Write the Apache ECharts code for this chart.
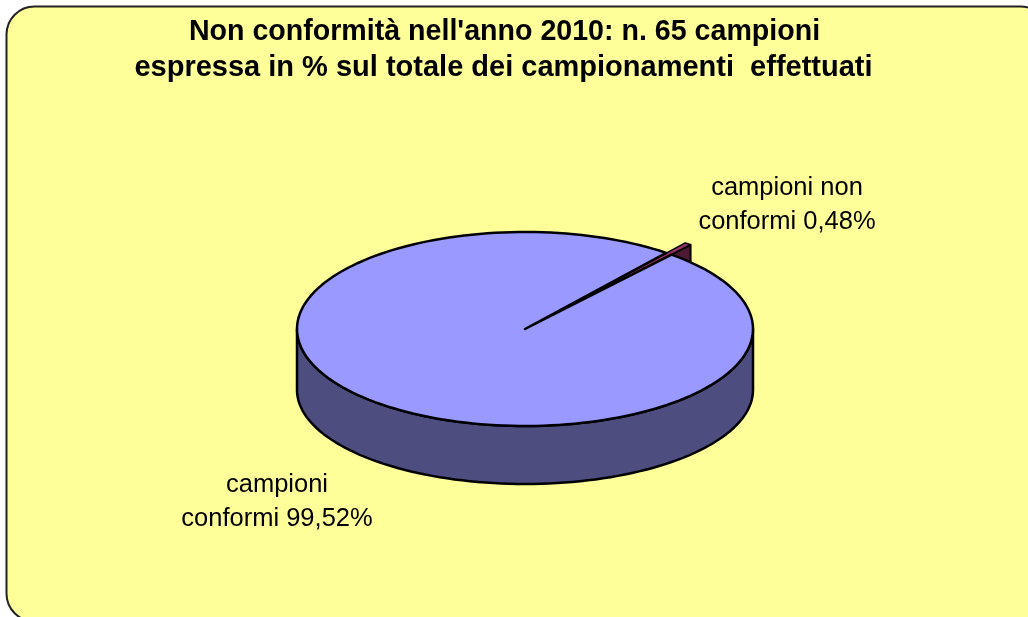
<!DOCTYPE html>
<html>
<head>
<meta charset="utf-8">
<style>
	html, body { margin: 0; padding: 0; background: #fff; }
	#main { width: 1028px; height: 617px; }
</style>
<script src="https://cdn.jsdelivr.net/npm/echarts@6/dist/echarts.min.js"></script>
</head>
<body>
<div id="main"></div>
<script>
//	dati
var categories = ["campioni conformi", "campioni non conformi"];
var values = [99.52, 0.48];
var labels = ["campioni\nconformi 99,52%", "campioni non\nconformi 0,48%"];
var titleLines = ["Non conformità nell'anno 2010: n. 65 campioni", "espressa in % sul totale dei campionamenti  effettuati"];

//	geometria della torta "3D"
var cx = 525, cy = 329, rx = 228, ry = 97;
var baseCy = 390, baseRy = 94;
var firstAngle = 40;		// gradi in senso orario dalle 12
var explode = 0.132;
var labelPos = [[277, 502], [787, 205]];
var colors = ["#9999FF", "#993366"];
var sideColors = ["#4D4D80", "#4D1A33"];

var total = 0;
for (var k = 0; k < values.length; k++) {
	total += values[k];
}

function toPoint(deg, ox, oy, y0, h) {
	var a = deg * Math.PI / 180;
	return [ox + rx * Math.cos(a), oy + y0 - cy - h * Math.sin(a)];
}
function arcPoints(from, to, ox, oy, y0, h) {
	var pts = [];
	var n = Math.max(2, Math.ceil(Math.abs(to - from) / 2));
	for (var i = 0; i <= n; i++) {
		pts.push(toPoint(from + (to - from) * i / n, ox, oy, y0, h));
	}
	return pts;
}
function renderSlice(params, api) {
	var idx = params.dataIndex;
	var before = 0;
	for (var i = 0; i < idx; i++) {
		before += values[i];
	}
	var sweep = api.value(1) / total * 360;
	// angoli matematici, si gira in senso orario
	var start = 90 - firstAngle - before / total * 360;
	var end = start - sweep;
	var children = [];

	if (idx == 0) {
		// fianco anteriore
		var front = arcPoints(180, 360, cx, cy, cy, ry);
		var back = arcPoints(360, 180, cx, cy, baseCy, baseRy);
		children.push({
			type: "polygon", z2: 3,
			shape: { points: front.concat(back) },
			style: { fill: sideColors[0], stroke: "#000", lineWidth: 2.5, lineJoin: "round" }
		});
		var top0 = [[cx, cy]].concat(arcPoints(start, end, cx, cy, cy, ry));
		children.push({
			type: "polygon", z2: 4,
			shape: { points: top0 },
			style: { fill: colors[0], stroke: "#000", lineWidth: 2.5, lineJoin: "round" }
		});
	} else {
		// fetta esplosa, resta dietro alla fetta grande
		var mid = (start + end) / 2 * Math.PI / 180;
		var ox = cx + rx * explode * Math.cos(mid);
		var oy = cy - ry * explode * Math.sin(mid);
		var depth = baseCy - cy;
		var corner = toPoint(end, ox, oy, cy, ry);
		children.push({
			type: "polygon", z2: 1,
			shape: { points: [[ox, oy], corner, [corner[0], corner[1] + depth], [ox, oy + depth]] },
			style: { fill: sideColors[1], stroke: "#000", lineWidth: 2, lineJoin: "round" }
		});
		var top1 = [[ox, oy]].concat(arcPoints(start, end, ox, oy, cy, ry));
		children.push({
			type: "polygon", z2: 2,
			shape: { points: top1 },
			style: { fill: colors[1], stroke: "#000", lineWidth: 1.5, lineJoin: "round" }
		});
	}
	children.push({
		type: "text", z2: 5,
		x: labelPos[idx][0], y: labelPos[idx][1],
		style: {
			text: labels[idx],
			fill: "#000",
			font: "25.5px 'Liberation Sans', Arial, sans-serif",
			lineHeight: 34,
			align: "center",
			verticalAlign: "middle"
		}
	});
	return { type: "group", children: children };
}

var seriesData = [];
for (var j = 0; j < categories.length; j++) {
	seriesData.push([categories[j], values[j]]);
}

var titleFont = "'Liberation Sans', Arial, sans-serif";
var chart = echarts.init(document.getElementById("main"), null, { renderer: "canvas" });
chart.setOption({
	animation: false,
	backgroundColor: "#fff",
	graphic: [{
		type: "rect",
		z: -1,
		shape: { x: 6.5, y: 6.5, width: 1042, height: 615, r: 28 },
		style: { fill: "#FFFF99", stroke: "#222", lineWidth: 2 }
	}],
	title: [{
		text: titleLines[0],
		left: 499.5,
		top: 10,
		textAlign: "center",
		textStyle: { fontFamily: titleFont, fontSize: 28.6, fontWeight: "bold", lineHeight: 35, color: "#000" }
	}, {
		text: titleLines[1],
		left: 498.5,
		top: 45,
		textAlign: "center",
		textStyle: { fontFamily: titleFont, fontSize: 29, fontWeight: "bold", lineHeight: 35, color: "#000" }
	}],
	series: [{
		type: "custom",
		coordinateSystem: "none",
		silent: true,
		data: seriesData,
		renderItem: renderSlice
	}]
});
</script>
</body>
</html>
